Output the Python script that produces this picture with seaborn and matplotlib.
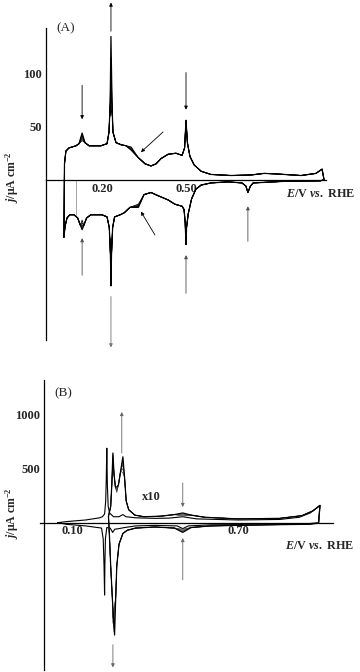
import numpy as np
import seaborn as sns
import matplotlib.pyplot as plt

sns.set_style("white")
plt.rcParams['font.family'] = ['Liberation Serif', 'DejaVu Serif']
plt.rcParams['mathtext.fontset'] = 'custom'
plt.rcParams['mathtext.rm'] = 'Liberation Serif:bold'
plt.rcParams['mathtext.bf'] = 'Liberation Serif:bold'
plt.rcParams['mathtext.it'] = 'Liberation Serif:italic:bold'

# ---------------- panel A  (E / V vs RHE, j / uA cm-2) ----------------
a_anod_E = [0.064, 0.066, 0.071, 0.082, 0.107, 0.118, 0.129, 0.139, 0.154, 0.196,
            0.218, 0.225, 0.229, 0.232, 0.236, 0.239, 0.250, 0.268, 0.286, 0.304,
            0.329, 0.354, 0.375, 0.393, 0.411, 0.436, 0.464, 0.486, 0.495, 0.500,
            0.505, 0.514, 0.529, 0.554, 0.589, 0.661, 0.732, 0.779, 0.821, 0.911,
            0.964, 0.986, 0.993]
a_anod_j = [-54, 15, 27, 30, 32, 34, 44, 35, 32, 32,
            34, 45, 70, 135, 70, 45, 35, 33, 32, 28,
            21, 15, 13, 15, 20, 24, 25, 23, 30, 56,
            35, 22, 14, 8, 5, 4, 4.5, 6, 5.5, 4,
            6, 10, 0]
a_cath_E = [0.993, 0.98, 0.85, 0.74, 0.73, 0.721, 0.714, 0.70, 0.65, 0.589,
            0.554, 0.535, 0.52, 0.508, 0.502, 0.500, 0.497, 0.493, 0.486, 0.46,
            0.436, 0.40, 0.375, 0.35, 0.33, 0.30, 0.28, 0.265, 0.245, 0.238,
            0.234, 0.232, 0.230, 0.226, 0.218, 0.20, 0.16, 0.145, 0.135, 0.129,
            0.123, 0.113, 0.10, 0.085, 0.075, 0.068, 0.064]
a_cath_j = [0, -1, -1.5, -3, -6, -12, -6, -3, -2, -3,
            -5, -9, -18, -32, -45, -61, -40, -28, -25, -23,
            -19, -15, -12, -14, -19, -26, -31, -33, -35, -45,
            -70, -100, -70, -45, -35, -33, -33, -36, -43, -47,
            -43, -36, -33, -33, -36, -44, -54]

# cycle to cycle spread of the growing / shrinking features
a_peak1_anod = [37, 39, 41, 43, 44]
a_peak2_anod = [60, 78, 95, 115, 135]
a_band_anod = [31, 30, 29, 28.5, 28]
a_peak1_cath = [-38, -41, -43, -45, -47]
a_peak2_cath = [-55, -66, -78, -90, -100]
a_band_cath = [-23, -24, -25, -25.5, -26]

a_guide_E = [0.107, 0.107]
a_guide_j = [0, -33]

a_arrows = [(0.232, 140, 0.232, 167, 'k'), (0.129, 89, 0.129, 57, 'k'),
            (0.418, 45, 0.339, 26, 'k'), (0.500, 101, 0.500, 66, 'k'),
            (0.129, -90, 0.129, -55, '0.3'), (0.389, -52, 0.339, -30, 'k'),
            (0.500, -107, 0.500, -71, '0.3'), (0.721, -58, 0.721, -25, '0.3'),
            (0.232, -110, 0.232, -158, '0.45')]

# ---------------- panel B ----------------
b1_anod_E = [0.049, 0.08, 0.15, 0.20, 0.210, 0.218, 0.222, 0.224, 0.226, 0.228,
             0.231, 0.236, 0.25, 0.27, 0.284, 0.295, 0.33, 0.40, 0.45, 0.50,
             0.55, 0.70, 0.85, 0.92, 0.96, 0.995]
b1_anod_j = [0, 10, 25, 45, 55, 80, 200, 400, 690, 350,
             150, 90, 55, 55, 75, 55, 45, 40, 42, 55,
             35, 25, 30, 50, 90, 160]
b1_cath_E = [0.995, 0.99, 0.95, 0.80, 0.60, 0.52, 0.50, 0.48, 0.40, 0.33,
             0.29, 0.27, 0.255, 0.247, 0.243, 0.238, 0.226, 0.221, 0.219, 0.218,
             0.216, 0.213, 0.207, 0.15, 0.08, 0.049]
b1_cath_j = [160, 0, -10, -15, -20, -30, -55, -30, -25, -30,
             -45, -55, -60, -90, -70, -50, -45, -150, -400, -670,
             -400, -150, -50, -30, -15, 0]

b2_anod_E = [0.232, 0.240, 0.244, 0.248, 0.252, 0.257, 0.262, 0.268, 0.276, 0.284,
             0.290, 0.296, 0.305, 0.327, 0.36, 0.42, 0.47, 0.50, 0.53, 0.58,
             0.70, 0.85, 0.93, 0.97, 0.995]
b2_anod_j = [60, 150, 350, 640, 450, 330, 300, 350, 480, 610,
             420, 200, 120, 70, 55, 60, 75, 90, 70, 50,
             35, 40, 65, 110, 160]
b2_cath_E = [0.995, 0.99, 0.95, 0.80, 0.60, 0.53, 0.50, 0.47, 0.40, 0.33,
             0.30, 0.284, 0.270, 0.262, 0.258, 0.252, 0.246, 0.240, 0.236, 0.232]
b2_cath_j = [160, -5, -15, -20, -30, -45, -90, -50, -40, -50,
             -70, -100, -200, -400, -700, -1000, -700, -400, -150, 60]

b2_peak2 = [560, 590, 610, 630, 645]
b2_min = [280, 290, 300, 315, 330]
b2_peak3 = [460, 500, 540, 580, 610]
b2_bump = [60, 68, 75, 82, 90]
b2_dip_E = [0.246, 0.248, 0.250, 0.252, 0.254]
b2_dip_j = [-880, -930, -970, -1010, -1040]
b2_cath05 = [-60, -68, -75, -82, -90]

b_arrows = [(0.280, 645, 0.280, 1025, '0.4'), (0.500, 368, 0.500, 145, '0.4'),
            (0.500, -530, 0.500, -142, '0.4'), (0.248, -1130, 0.248, -1340, '0.4')]


def style_axis(ax, xlim, ylim, xticks, xlabels, yticks, ylabels):
    ax.set_xlim(*xlim)
    ax.set_ylim(*ylim)
    ax.patch.set_alpha(0)
    for s in ['top', 'right']:
        ax.spines[s].set_visible(False)
    ax.spines['left'].set_position(('data', 0))
    ax.spines['bottom'].set_position(('data', 0))
    for s in ['left', 'bottom']:
        ax.spines[s].set_color('k')
        ax.spines[s].set_linewidth(0.9)
    ax.set_xticks(xticks)
    ax.set_xticklabels(xlabels)
    ax.set_yticks(yticks)
    ax.set_yticklabels(ylabels)
    for t in ax.get_xticklabels() + ax.get_yticklabels():
        t.set_fontweight('bold')
        t.set_fontsize(9)
    ax.tick_params(axis='x', direction='in', length=3, width=0.7, pad=2)
    ax.tick_params(axis='y', direction='inout', length=4, width=0.7, pad=1)
    ax.set_xlabel('')
    ax.set_ylabel('')


def arrows(ax, lst):
    for x0, y0, x1, y1, c in lst:
        ax.annotate('', xy=(x1, y1), xytext=(x0, y0), annotation_clip=False,
                    arrowprops=dict(arrowstyle='-|>', color=c, lw=0.6,
                                    mutation_scale=5, shrinkA=0, shrinkB=0))


fig = plt.figure(figsize=(3.6, 6.72), dpi=100)
axA = fig.add_axes([46 / 360, 1 - 340 / 672, 280 / 360, 312 / 672])
axB = fig.add_axes([40 / 360, 1 - 670 / 672, 293 / 360, 290 / 672])

# ---- A
i_p1 = a_anod_E.index(0.129)
i_p2 = a_anod_E.index(0.232)
i_b = a_anod_E.index(0.304)
k_p1 = a_cath_E.index(0.129)
k_p2 = a_cath_E.index(0.232)
k_b = a_cath_E.index(0.33)
for i in range(len(a_peak1_anod)):
    ja = list(a_anod_j)
    jc = list(a_cath_j)
    ja[i_p1] = a_peak1_anod[i]
    ja[i_p2] = a_peak2_anod[i]
    ja[i_b] = a_band_anod[i]
    jc[k_p1] = a_peak1_cath[i]
    jc[k_p2] = a_peak2_cath[i]
    jc[k_b] = a_band_cath[i]
    last = i == len(a_peak1_anod) - 1
    sns.lineplot(x=a_anod_E + a_cath_E, y=ja + jc, sort=False, estimator=None,
                 ax=axA, color='k', lw=0.9 if last else 0.6)
sns.lineplot(x=a_guide_E, y=a_guide_j, sort=False, estimator=None, ax=axA,
             color='0.5', lw=0.5)
style_axis(axA, (0, 1.0), (-151, 143),
           np.arange(0.1, 1.0, 0.1), ['', '0.20', '', '', '0.50', '', '', '', ''],
           [-100, -50, 50, 100], ['', '', '50', '100'])
arrows(axA, a_arrows)
axA.text(0.071, 143, '(A)', fontsize=9.5, va='center', ha='center')
axA.text(0.858, -13, r'$E$/V $vs.$ RHE', fontsize=8.7, fontweight='bold',
         va='center', ha='left', clip_on=False)

# ---- B
sns.lineplot(x=b1_anod_E + b1_cath_E, y=b1_anod_j + b1_cath_j, sort=False,
             estimator=None, ax=axB, color='k', lw=0.8)
n_p2 = b2_anod_E.index(0.248)
n_m = b2_anod_E.index(0.262)
n_p3 = b2_anod_E.index(0.284)
n_b = b2_anod_E.index(0.50)
m_d = b2_cath_E.index(0.252)
m_05 = b2_cath_E.index(0.50)
for i in range(len(b2_peak2)):
    ja = list(b2_anod_j)
    jc = list(b2_cath_j)
    ec = list(b2_cath_E)
    ja[n_p2] = b2_peak2[i]
    ja[n_m] = b2_min[i]
    ja[n_p3] = b2_peak3[i]
    ja[n_b] = b2_bump[i]
    jc[m_d] = b2_dip_j[i]
    ec[m_d] = b2_dip_E[i]
    jc[m_05] = b2_cath05[i]
    last = i == len(b2_peak2) - 1
    sns.lineplot(x=b2_anod_E + ec, y=ja + jc, sort=False, estimator=None,
                 ax=axB, color='k' if last else '0.25', lw=0.9 if last else 0.5)
style_axis(axB, (-0.015, 1.042), (-1364, 1321),
           np.arange(0.1, 1.01, 0.1), ['0.10', '', '', '', '', '', '0.70', '', '', ''],
           [-1000, -500, 500, 1000], ['', '', '500', '1000'])
arrows(axB, b_arrows)
axB.text(0.068, 1200, '(B)', fontsize=9.5, va='center', ha='center')
axB.text(0.353, 238, 'x10', fontsize=9, fontweight='bold', va='center', ha='left')
axB.text(0.868, -215, r'$E$/V $vs.$ RHE', fontsize=8.7, fontweight='bold',
         va='center', ha='left', clip_on=False)

fig.text(12 / 360, 1 - 177 / 672, r'$j$/μA cm$^{-2}$', rotation=90, fontsize=8.5,
         fontweight='bold', ha='center', va='center')
fig.text(12 / 360, 1 - 513 / 672, r'$j$/μA cm$^{-2}$', rotation=90, fontsize=8.5,
         fontweight='bold', ha='center', va='center')

fig.savefig('out.png', dpi=100)
